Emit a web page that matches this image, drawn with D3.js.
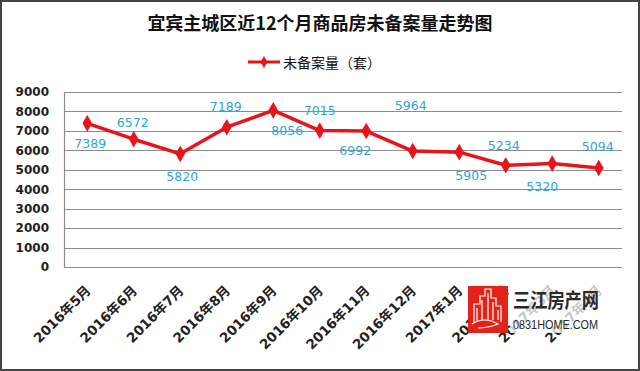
<!DOCTYPE html>
<html lang="zh">
<head>
<meta charset="UTF-8">
<title>宜宾主城区近12个月商品房未备案量走势图</title>
<script src="https://d3js.org/d3.v7.min.js"></script>
<style>
  body { margin: 0; background: #fff; }
  svg { display: block; }
</style>
</head>
<body>
<svg width="640" height="371"></svg>
<script>
// data
var months = ["2016年5月", "2016年6月", "2016年7月", "2016年8月", "2016年9月", "2016年10月",
  "2016年11月", "2016年12月", "2017年1月", "2017年2月", "2017年3月", "2017年4月"];
var unfiled = [7389, 6572, 5820, 7189, 8056, 7015, 6992, 5964, 5905, 5234, 5320, 5094];
var yTicks = [0, 1000, 2000, 3000, 4000, 5000, 6000, 7000, 8000, 9000];
var seriesName = "未备案量（套）";

// where each value label sits relative to its point (px)
var labelShift = [[3, 20], [-1, -17], [2, 23], [-1, -21], [14, 20], [0, -20],
  [-11, 20], [-2, -45], [12, 23], [-2, -20], [-10, 23], [-1, -21]];

var svg = d3.select("svg"),
  W = 640, H = 371,
  plotL = 64, plotR = 622, plotT = 92, plotB = 267;

var red = "#e8141c", blue = "#2fa5d6";

// outer frame
svg.append("rect")
  .attr("x", 1).attr("y", 1).attr("width", W - 2).attr("height", H - 2)
  .attr("fill", "#fff").attr("stroke", "#444").attr("stroke-width", 2);

var x = d3.scaleBand().domain(months).range([plotL, plotR]);
var y = d3.scaleLinear().domain([0, 9000]).range([plotB, plotT]);

// title
svg.append("text")
  .attr("x", 320).attr("y", 22)
  .attr("text-anchor", "middle").attr("dominant-baseline", "central")
  .style("font-family", "'Noto Sans CJK SC'").style("font-weight", "bold")
  .style("font-size", "18px").attr("fill", "#111")
  .text("宜宾主城区近12个月商品房未备案量走势图");

// legend
var lg = svg.append("g").attr("transform", "translate(248,62)");
lg.append("line").attr("x1", 0).attr("x2", 32).attr("stroke", red).attr("stroke-width", 3);
lg.append("path").attr("d", d3.symbol(d3.symbolDiamond, 40)()).attr("transform", "translate(16,0)").attr("fill", red);
lg.append("text").attr("x", 35).attr("dominant-baseline", "central")
  .style("font-family", "'Noto Sans CJK SC'").style("font-size", "14px").attr("fill", "#111")
  .text(seriesName);

// grid
svg.append("g").selectAll("line").data(yTicks).enter().append("line")
  .attr("x1", plotL).attr("x2", plotR)
  .attr("y1", function (d) { return Math.round(y(d)) + 0.5; })
  .attr("y2", function (d) { return Math.round(y(d)) + 0.5; })
  .attr("stroke", "#8c8c8c").attr("stroke-width", 1.2);
svg.append("line").attr("x1", plotL + 0.5).attr("x2", plotL + 0.5)
  .attr("y1", y(9000)).attr("y2", y(0) + 1).attr("stroke", "#8c8c8c").attr("stroke-width", 1.2);

// y axis
var yAxis = svg.append("g").attr("transform", "translate(" + plotL + ",0)")
  .call(d3.axisLeft(y).tickValues(yTicks).tickFormat(d3.format("d")).tickSize(0).tickPadding(15));
yAxis.select(".domain").remove();
yAxis.selectAll("text")
  .style("font-family", "'DejaVu Sans'").style("font-weight", "bold")
  .style("font-size", "12px").attr("fill", "#222");

// x labels
svg.append("g").selectAll("text").data(months).enter().append("text")
  .attr("transform", function (d) {
    return "translate(" + (x(d) + x.bandwidth() / 2 + 1) + "," + 288 + ") rotate(-45)";
  })
  .attr("text-anchor", "end").attr("dy", "0.35em")
  .style("font-family", "'DejaVu Sans', 'Noto Sans CJK SC'").style("font-weight", "bold")
  .style("font-size", "13.5px").attr("fill", "#222")
  .text(function (d) { return d; });

// line + markers
var line = d3.line()
  .x(function (d, i) { return x(months[i]) + x.bandwidth() / 2; })
  .y(function (d) { return y(d); });

svg.append("path").datum(unfiled).attr("d", line)
  .attr("fill", "none").attr("stroke", red).attr("stroke-width", 3.5)
  .attr("stroke-linejoin", "round");

svg.append("g").selectAll("path").data(unfiled).enter().append("path")
  .attr("d", d3.symbol(d3.symbolDiamond, 80)())
  .attr("transform", function (d, i) {
    return "translate(" + (x(months[i]) + x.bandwidth() / 2) + "," + y(d) + ")";
  })
  .attr("fill", red);

// value labels
svg.append("g").selectAll("text").data(unfiled).enter().append("text")
  .attr("x", function (d, i) { return x(months[i]) + x.bandwidth() / 2 + labelShift[i][0]; })
  .attr("y", function (d, i) { return y(d) + labelShift[i][1]; })
  .attr("text-anchor", "middle").attr("dy", "0.35em")
  .style("font-family", "'DejaVu Sans'").style("font-size", "12.5px")
  .attr("fill", blue)
  .text(function (d) { return d; });

// watermark, sits over the last x labels
var wm = svg.append("g").attr("transform", "translate(468,286)");
wm.append("rect").attr("x", 42).attr("y", 0).attr("width", 92).attr("height", 47)
  .attr("fill", "#fff").attr("opacity", 0.75);
wm.append("rect").attr("width", 40).attr("height", 47).attr("fill", "#e2231a");
wm.append("path")
  .attr("d", "M6,36 L6,18 L12,18 L12,10 L17,10 L17,3 L23,3 L23,12 L28,12 L28,20 L33,20 L33,36" +
    " M9,36 L9,22 M14,34 L14,14 M20,34 L20,7 M25,34 L25,16 M30,34 L30,24" +
    " M4,38 Q16,30 30,38 Q20,42 10,42")
  .attr("fill", "none").attr("stroke", "#fff").attr("stroke-width", 1.2);
wm.append("text").attr("x", 45).attr("y", 13).attr("dominant-baseline", "central")
  .style("font-family", "'Noto Sans CJK SC'").style("font-weight", "bold")
  .style("font-size", "20px").attr("fill", "#2a2a2a")
  .attr("textLength", 86).attr("lengthAdjust", "spacingAndGlyphs")
  .text("三江房产网");
wm.append("text").attr("x", 45).attr("y", 38).attr("dominant-baseline", "central")
  .style("font-family", "'Liberation Sans Narrow', 'Liberation Sans'")
  .style("font-size", "13px").attr("fill", "#2a2a2a")
  .attr("textLength", 85).attr("lengthAdjust", "spacingAndGlyphs")
  .text("0831HOME.COM");
</script>
</body>
</html>
